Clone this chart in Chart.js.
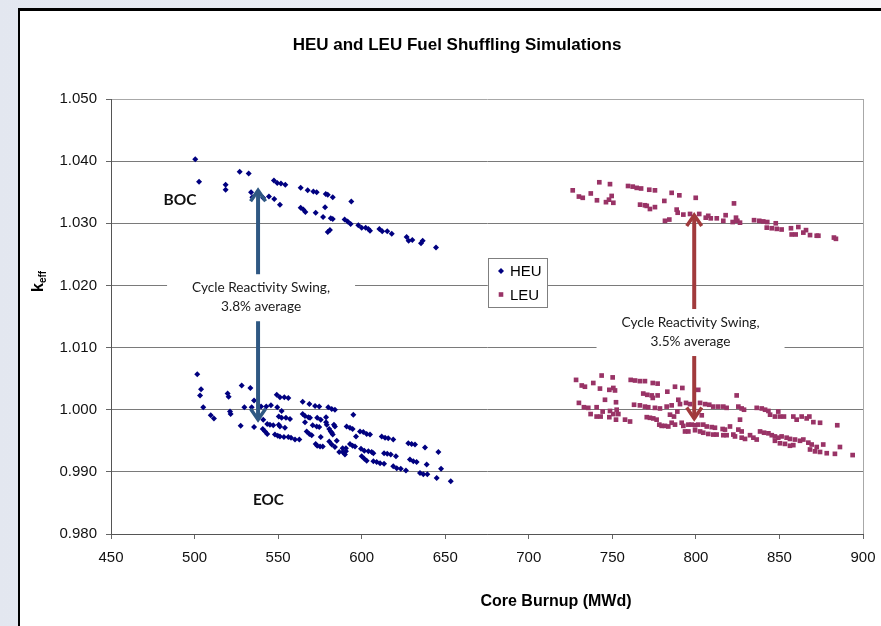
<!DOCTYPE html>
<html><head><meta charset="utf-8">
<script src="https://cdn.jsdelivr.net/npm/chart.js@4.4.1/dist/chart.umd.min.js"></script>
<style>
html,body{margin:0;padding:0;width:881px;height:626px;overflow:hidden;background:linear-gradient(90deg,#e3e7f0 0%,#eceff5 50%,#f5f6f9 100%);}
#frame{position:absolute;left:18px;top:8px;width:900px;height:700px;background:#fff;border-left:2px solid #000;border-top:3px solid #000;box-sizing:border-box;}
#c{position:absolute;left:0;top:0;}
</style></head><body>
<div id="frame"></div>
<canvas id="c" width="881" height="626"></canvas>
<script>
// ---- data (burnup MWd, k_eff) ----
const heuBoc = [[500.4,1.0403],[502.7,1.0367],[518.6,1.0362],[518.6,1.0354],[527.0,1.0383],[532.4,1.0380],[533.8,1.0350],[534.6,1.0342],[541.0,1.0341],[544.5,1.0343],[547.7,1.0339],[551.1,1.0330],[547.5,1.0369],[549.5,1.0365],[551.7,1.0364],[554.3,1.0362],[563.5,1.0357],[567.7,1.0353],[571.1,1.0351],[573.1,1.0350],[578.5,1.0347],[579.7,1.0346],[582.7,1.0342],[593.8,1.0335],[563.5,1.0325],[565.1,1.0322],[566.3,1.0318],[572.5,1.0317],[578.1,1.0326],[576.9,1.0310],[581.5,1.0308],[582.7,1.0307],[579.7,1.0286],[581.0,1.0289],[589.8,1.0306],[591.6,1.0303],[593.4,1.0299],[598.0,1.0297],[600.0,1.0293],[602.4,1.0293],[604.0,1.0291],[605.0,1.0288],[610.6,1.0291],[612.3,1.0287],[615.3,1.0287],[618.0,1.0283],[626.9,1.0278],[628.1,1.0272],[630.3,1.0273],[635.5,1.0268],[636.5,1.0272],[644.5,1.0261]];
const heuEoc = [[501.6,1.0057],[503.9,1.0033],[503.3,1.0023],[505.2,1.0004],[509.7,0.9991],[511.6,0.9986],[519.8,1.0026],[520.4,1.0021],[521.2,0.9997],[521.6,0.9993],[527.6,0.9974],[528.2,1.0039],[529.8,1.0004],[533.4,1.0035],[535.6,1.0015],[534.2,1.0004],[535.6,0.9972],[541.1,0.9984],[540.8,0.9969],[542.2,0.9965],[543.5,0.9961],[539.8,1.0005],[542.9,1.0005],[545.7,1.0007],[543.5,0.9977],[545.1,0.9976],[547.1,0.9975],[549.2,1.0024],[551.1,1.0020],[553.7,1.0020],[556.1,1.0019],[549.5,1.0004],[552.1,0.9998],[550.4,0.9989],[552.1,0.9987],[554.7,0.9987],[557.1,0.9985],[550.4,0.9976],[551.1,0.9973],[554.1,0.9971],[548.1,0.9960],[549.8,0.9958],[551.1,0.9957],[553.5,0.9956],[556.1,0.9956],[557.7,0.9955],[560.1,0.9952],[562.7,0.9952],[564.7,1.0013],[568.7,1.0009],[572.1,1.0006],[574.6,1.0005],[564.7,0.9993],[566.1,0.9990],[568.1,0.9988],[569.1,0.9987],[566.1,0.9980],[567.1,0.9965],[568.7,0.9961],[570.1,0.9959],[570.7,0.9975],[573.1,0.9973],[574.6,0.9972],[573.4,0.9987],[575.5,0.9984],[572.5,0.9945],[573.4,0.9942],[575.1,0.9941],[576.7,0.9941],[575.5,0.9956],[578.7,0.9988],[578.7,0.9980],[579.1,0.9976],[580.0,1.0004],[582.1,1.0001],[584.0,1.0000],[580.6,0.9969],[581.5,0.9965],[582.1,0.9963],[582.7,0.9960],[580.6,0.9949],[582.1,0.9944],[584.0,0.9940],[583.4,0.9976],[584.0,0.9973],[585.1,0.9950],[586.6,0.9932],[588.6,0.9932],[590.6,0.9933],[590.0,0.9928],[588.6,0.9938],[590.6,0.9938],[595.0,0.9992],[591.0,0.9973],[593.0,0.9971],[594.6,0.9969],[593.0,0.9945],[594.6,0.9942],[596.0,0.9941],[596.6,0.9957],[599.0,0.9965],[601.0,0.9964],[603.0,0.9961],[605.0,0.9960],[599.6,0.9937],[601.6,0.9934],[604.0,0.9933],[606.0,0.9932],[607.0,0.9930],[600.0,0.9925],[601.6,0.9921],[603.0,0.9918],[607.0,0.9917],[609.0,0.9916],[611.0,0.9914],[613.4,0.9913],[612.0,0.9957],[614.0,0.9955],[615.9,0.9954],[618.9,0.9952],[613.4,0.9930],[615.3,0.9929],[617.4,0.9928],[620.5,0.9925],[618.9,0.9909],[621.0,0.9906],[623.4,0.9905],[626.5,0.9902],[627.9,0.9946],[629.9,0.9945],[631.9,0.9944],[628.9,0.9920],[630.9,0.9917],[632.9,0.9916],[634.9,0.9898],[636.9,0.9896],[639.3,0.9896],[637.9,0.9939],[638.9,0.9912],[645.9,0.9932],[647.5,0.9905],[644.9,0.9890],[653.3,0.9885]];
const leuBoc = [[726.3,1.0353],[730.0,1.0343],[732.3,1.0341],[737.1,1.0348],[742.2,1.0366],[740.8,1.0337],[748.6,1.0363],[746.2,1.0334],[748.0,1.0338],[749.6,1.0344],[750.6,1.0333],[759.4,1.0360],[762.2,1.0359],[764.6,1.0357],[767.2,1.0356],[766.6,1.0330],[769.5,1.0329],[770.6,1.0328],[772.5,1.0323],[775.5,1.0326],[772.1,1.0354],[775.5,1.0353],[781.1,1.0336],[785.5,1.0349],[790.1,1.0345],[788.5,1.0322],[789.1,1.0317],[781.5,1.0304],[784.1,1.0306],[792.5,1.0314],[796.5,1.0315],[799.9,1.0341],[802.0,1.0315],[805.9,1.0309],[807.4,1.0312],[808.9,1.0308],[812.5,1.0308],[816.4,1.0304],[817.8,1.0313],[822.8,1.0332],[822.0,1.0302],[824.0,1.0309],[824.8,1.0304],[826.4,1.0301],[834.8,1.0305],[837.9,1.0304],[840.3,1.0303],[842.7,1.0302],[847.8,1.0300],[842.4,1.0293],[845.4,1.0292],[848.4,1.0291],[851.3,1.0290],[856.9,1.0292],[861.3,1.0294],[865.9,1.0289],[857.3,1.0282],[859.7,1.0282],[864.3,1.0285],[868.3,1.0281],[872.3,1.0280],[873.3,1.0280],[882.6,1.0277],[883.8,1.0275]];
const leuEoc = [[728.3,1.0048],[731.7,1.0039],[733.6,1.0037],[738.6,1.0043],[743.6,1.0055],[750.2,1.0052],[742.6,1.0034],[748.2,1.0032],[750.6,1.0035],[751.6,1.0031],[745.6,1.0016],[752.2,1.0012],[730.0,1.0011],[733.0,1.0004],[735.6,1.0003],[740.6,1.0004],[744.2,0.9997],[737.0,0.9993],[740.6,0.9989],[743.0,0.9989],[748.6,0.9998],[750.6,0.9993],[752.6,1.0000],[753.6,0.9993],[748.2,0.9988],[752.2,0.9984],[757.6,0.9984],[760.6,0.9981],[761.0,1.0048],[763.6,1.0047],[766.5,1.0046],[769.5,1.0046],[774.2,1.0043],[777.1,1.0042],[768.5,1.0026],[770.9,1.0024],[773.6,1.0023],[774.2,1.0019],[777.1,1.0023],[763.0,1.0008],[766.5,1.0007],[769.5,1.0005],[771.5,1.0004],[775.5,1.0003],[778.5,1.0002],[770.6,0.9988],[772.5,0.9987],[774.5,0.9986],[776.5,0.9984],[778.1,0.9976],[779.5,0.9974],[781.5,0.9974],[783.5,0.9973],[782.9,1.0029],[787.5,1.0037],[791.9,1.0035],[782.5,1.0005],[785.5,1.0007],[784.5,0.9992],[786.9,0.9989],[785.5,0.9979],[787.5,0.9976],[789.5,1.0016],[790.5,1.0009],[788.9,0.9997],[791.5,0.9979],[792.5,0.9974],[793.5,0.9965],[795.5,0.9965],[795.5,0.9976],[797.5,0.9976],[799.5,0.9975],[801.4,0.9976],[804.4,0.9976],[799.5,0.9967],[802.5,0.9965],[801.4,1.0032],[794.1,1.0011],[796.5,1.0009],[802.5,1.0011],[805.5,1.0009],[808.0,1.0008],[810.4,1.0005],[813.4,1.0005],[803.5,0.9991],[806.5,0.9973],[809.5,0.9972],[811.4,0.9971],[804.4,0.9963],[807.4,0.9961],[810.4,0.9960],[812.4,0.9960],[816.4,1.0005],[818.4,1.0003],[816.0,0.9969],[817.4,0.9968],[816.4,0.9959],[818.4,0.9959],[820.4,0.9973],[822.4,0.9960],[823.4,0.9957],[824.4,1.0023],[825.4,1.0005],[827.4,1.0002],[828.8,1.0000],[826.4,0.9984],[825.4,0.9968],[827.4,0.9965],[827.4,0.9955],[829.4,0.9953],[832.4,0.9959],[834.4,0.9955],[836.4,0.9952],[836.4,1.0003],[839.4,1.0002],[841.4,1.0000],[843.4,0.9998],[838.4,0.9965],[840.8,0.9963],[843.4,0.9962],[845.4,0.9959],[847.3,0.9957],[849.3,0.9955],[844.4,0.9992],[847.3,0.9989],[849.3,0.9997],[850.3,0.9989],[852.7,0.9989],[847.3,0.9950],[850.3,0.9946],[853.3,0.9945],[856.3,0.9942],[858.3,0.9943],[851.3,0.9957],[854.3,0.9955],[856.3,0.9953],[859.3,0.9952],[862.3,0.9950],[858.3,0.9989],[860.3,0.9984],[863.3,0.9989],[866.3,0.9986],[867.9,0.9989],[870.3,0.9980],[874.3,0.9979],[864.3,0.9952],[867.3,0.9947],[869.3,0.9944],[872.3,0.9940],[876.2,0.9944],[868.3,0.9936],[871.3,0.9933],[874.3,0.9932],[878.3,0.9930],[883.2,0.9929],[884.6,0.9975],[886.2,0.9940],[893.8,0.9927]];

const seriesNames = ['HEU', 'LEU'];
const xTicksRange = [450, 900, 50];
const yTicksRange = [0.980, 1.050, 0.010];
// annotation arrows (x, [top k, bottom k])
const heuArrowX = 538, heuArrowY = [1.0358, 0.9979];
const leuArrowX = 799, leuArrowY = [1.0318, 0.9981];
const heuSwingText = ['Cycle Reactivity Swing,', '3.8% average'];
const leuSwingText = ['Cycle Reactivity Swing,', '3.5% average'];
const heuSwingAt = [539.8, 1.0181];
const leuSwingAt = [796.8, 1.0125];
const bocLabel = ['BOC', 491.3, 1.0338];
const eocLabel = ['EOC', 544.2, 0.9854];
const legendAt = [675.6, 1.0244];

const toPts = a => a.map(p => ({x: p[0], y: p[1]}));
const SANS = '"Liberation Sans", Arial, sans-serif';
const CAL = 'Lato, "Open Sans", sans-serif';

function fitFont(ctx, text, weight, family, target) {
  ctx.font = weight + ' 20px ' + family;
  const w = ctx.measureText(text).width;
  return weight + ' ' + (20 * target / w).toFixed(2) + 'px ' + family;
}

function drawArrow(ctx, x, yTop, yBot, color) {
  ctx.save();
  ctx.strokeStyle = color; ctx.lineWidth = 4; ctx.lineCap = 'butt'; ctx.lineJoin = 'miter';
  ctx.beginPath(); ctx.moveTo(x, yTop + 3); ctx.lineTo(x, yBot - 3); ctx.stroke();
  ctx.lineWidth = 3.5;
  ctx.beginPath(); ctx.moveTo(x - 7.5, yTop + 14); ctx.lineTo(x, yTop + 3); ctx.lineTo(x + 7.5, yTop + 14); ctx.stroke();
  ctx.beginPath(); ctx.moveTo(x - 7.5, yBot - 14); ctx.lineTo(x, yBot - 3); ctx.lineTo(x + 7.5, yBot - 14); ctx.stroke();
  ctx.restore();
}

function drawSwingBox(ctx, cx, cy, lines) {
  ctx.save();
  ctx.fillStyle = '#fff';
  ctx.fillRect(cx - 94, cy - 23, 188, 47);
  ctx.fillStyle = '#1a1a1a';
  ctx.font = fitFont(ctx, lines[0], 'normal', CAL, 138);
  ctx.textAlign = 'center'; ctx.textBaseline = 'middle';
  ctx.fillText(lines[0], cx, cy - 9.5);
  ctx.fillText(lines[1], cx, cy + 9.5);
  ctx.restore();
}

const annot = {
  id: 'annot',
  beforeDatasetsDraw(chart) {
    const {ctx, chartArea: a} = chart;
    ctx.save(); ctx.strokeStyle = '#a8a8a8'; ctx.lineWidth = 1;
    ctx.beginPath(); ctx.moveTo(a.right + 0.5, a.top); ctx.lineTo(a.right + 0.5, a.bottom); ctx.stroke();
    ctx.restore();
  },
  afterDatasetsDraw(chart) {
    const {ctx, scales: {x, y}} = chart;
    drawArrow(ctx, x.getPixelForValue(heuArrowX), y.getPixelForValue(heuArrowY[0]), y.getPixelForValue(heuArrowY[1]), '#2f5883');
    drawArrow(ctx, x.getPixelForValue(leuArrowX), y.getPixelForValue(leuArrowY[0]), y.getPixelForValue(leuArrowY[1]), '#a13a3c');
    drawSwingBox(ctx, x.getPixelForValue(heuSwingAt[0]), y.getPixelForValue(heuSwingAt[1]), heuSwingText);
    drawSwingBox(ctx, x.getPixelForValue(leuSwingAt[0]), y.getPixelForValue(leuSwingAt[1]), leuSwingText);
    ctx.save();
    ctx.fillStyle = '#111'; ctx.textAlign = 'center'; ctx.textBaseline = 'middle';
    ctx.font = fitFont(ctx, bocLabel[0], 'bold', CAL, 33);
    ctx.fillText(bocLabel[0], x.getPixelForValue(bocLabel[1]), y.getPixelForValue(bocLabel[2]));
    ctx.font = fitFont(ctx, eocLabel[0], 'bold', CAL, 31);
    ctx.fillText(eocLabel[0], x.getPixelForValue(eocLabel[1]), y.getPixelForValue(eocLabel[2]));
    ctx.restore();
  },
  afterDraw(chart) {
    const {ctx, chartArea: a, scales: {x, y}} = chart;
    // legend
    const lx = Math.round(x.getPixelForValue(legendAt[0])) + 0.5, ly = Math.round(y.getPixelForValue(legendAt[1])) + 0.5;
    ctx.save();
    ctx.fillStyle = '#fff'; ctx.fillRect(lx, ly, 59, 49);
    ctx.strokeStyle = '#7f7f7f'; ctx.lineWidth = 1; ctx.strokeRect(lx, ly, 59, 49);
    const ds = chart.data.datasets;
    ds.forEach((d, i) => {
      const my = ly + 12.5 + i * 23.5, mx = lx + 12.5;
      ctx.fillStyle = d.backgroundColor;
      ctx.beginPath();
      if (d.pointStyle === 'rectRot') { ctx.moveTo(mx, my - 3); ctx.lineTo(mx + 3, my); ctx.lineTo(mx, my + 3); ctx.lineTo(mx - 3, my); ctx.closePath(); }
      else { ctx.rect(mx - 2.3, my - 2.3, 4.6, 4.6); }
      ctx.fill();
      ctx.fillStyle = '#000'; ctx.font = '15px ' + SANS; ctx.textAlign = 'left'; ctx.textBaseline = 'middle';
      ctx.fillText(d.label, lx + 21.5, my + 1);
    });
    // chart title
    ctx.fillStyle = '#000'; ctx.textAlign = 'center'; ctx.textBaseline = 'alphabetic';
    ctx.font = 'bold 17px ' + SANS;
    ctx.fillText('HEU and LEU Fuel Shuffling Simulations', 457, 50);
    // x title
    ctx.font = 'bold 16px ' + SANS;
    ctx.fillText('Core Burnup (MWd)', 556, 606);
    // y title k_eff
    ctx.translate(43, 292); ctx.rotate(-Math.PI / 2);
    ctx.textAlign = 'left';
    ctx.font = 'bold 16px ' + SANS;
    ctx.fillText('k', 0, 0);
    const kw = ctx.measureText('k').width;
    ctx.font = 'bold 10px ' + SANS;
    ctx.fillText('eff', kw, 3);
    ctx.restore();
  }
};

new Chart(document.getElementById('c'), {
  type: 'scatter',
  data: {
    datasets: [
      {label: seriesNames[0], data: toPts(heuBoc.concat(heuEoc)), pointStyle: 'rectRot', pointRadius: 3, backgroundColor: '#000080', borderColor: '#000080', borderWidth: 0},
      {label: seriesNames[1], data: toPts(leuBoc.concat(leuEoc)), pointStyle: 'rect', pointRadius: 3.3, backgroundColor: '#993366', borderColor: '#993366', borderWidth: 0}
    ]
  },
  options: {
    responsive: false, animation: false, devicePixelRatio: 1,
    layout: {padding: {left: 0, top: 99, right: 18, bottom: 0}},
    plugins: {legend: {display: false}, tooltip: {enabled: false}, title: {display: false}},
    scales: {
      x: {
        type: 'linear', min: xTicksRange[0], max: xTicksRange[1],
        afterFit(s) { s.height = 92; s.paddingLeft = 0; s.paddingRight = 0; },
        ticks: {stepSize: xTicksRange[2], autoSkip: false, maxRotation: 0, padding: 10, color: '#111', font: {family: SANS, size: 15}},
        grid: {drawOnChartArea: false, drawTicks: true, tickLength: 5, tickColor: '#666'},
        border: {color: '#555', width: 1}
      },
      y: {
        min: yTicksRange[0], max: yTicksRange[1],
        afterFit(s) { s.width = 111; s.paddingTop = 0; s.paddingBottom = 0; },
        ticks: {stepSize: yTicksRange[2], padding: 9, color: '#111', font: {family: SANS, size: 15}, callback: v => Number(v).toFixed(3)},
        grid: {color: c => (c.tick && c.tick.value > 1.0495) ? '#a8a8a8' : '#7a7a7a', tickLength: 5, tickColor: '#666'},
        border: {color: '#555', width: 1}
      }
    }
  },
  plugins: [annot]
});
</script></body></html>
